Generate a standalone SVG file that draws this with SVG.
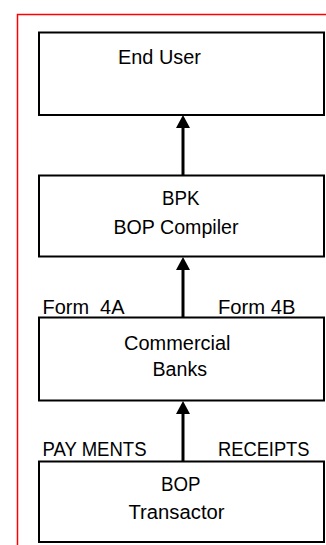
<svg xmlns="http://www.w3.org/2000/svg" width="326" height="545" viewBox="0 0 326 545">
<defs>
<style>
.box{fill:#fff;stroke:#000;stroke-width:2}
.t{font-family:"Liberation Sans",Arial,sans-serif;font-size:20px;fill:#000;white-space:pre}
.con{stroke:#000;stroke-width:3;fill:none}
</style>
</defs>
<rect width="326" height="545" fill="#fff"/>
<polyline points="17.5,545 17.5,14.5 326,14.5" fill="none" stroke="#f00" stroke-width="1.5"/>
<g id="connectors">
<line class="con" x1="183" y1="175" x2="183" y2="128"/>
<path d="M176,128 L183,115 L190,128 Z"/>
<line class="con" x1="183" y1="317" x2="183" y2="270"/>
<path d="M176,270 L183,257 L190,270 Z"/>
<line class="con" x1="183" y1="461" x2="183" y2="414"/>
<path d="M176,414 L183,401 L190,414 Z"/>
</g>
<g id="end-user">
<rect class="box" x="39" y="32.5" width="285" height="82.5"/>
<text class="t" x="118" y="64" textLength="83" lengthAdjust="spacingAndGlyphs">End User</text>
</g>
<g id="bpk">
<rect class="box" x="39" y="175.5" width="285" height="81"/>
<text class="t" x="162" y="205" textLength="37.5" lengthAdjust="spacingAndGlyphs">BPK</text>
<text class="t" x="113.5" y="234" textLength="125" lengthAdjust="spacingAndGlyphs">BOP Compiler</text>
</g>
<g id="banks">
<rect class="box" x="39" y="317.5" width="285" height="83"/>
<text class="t" x="124" y="350" textLength="106.5" lengthAdjust="spacingAndGlyphs">Commercial</text>
<text class="t" x="152.5" y="376" textLength="54.5" lengthAdjust="spacingAndGlyphs">Banks</text>
<text class="t" x="42.5" y="314" textLength="82" lengthAdjust="spacingAndGlyphs">Form  4A</text>
<text class="t" x="218" y="314" textLength="77.5" lengthAdjust="spacingAndGlyphs">Form 4B</text>
</g>
<g id="transactor">
<rect class="box" x="39" y="461.5" width="285" height="80.5"/>
<text class="t" x="161" y="491" textLength="39.5" lengthAdjust="spacingAndGlyphs">BOP</text>
<text class="t" x="128.5" y="519" textLength="96" lengthAdjust="spacingAndGlyphs">Transactor</text>
<text class="t" x="42.5" y="456" textLength="104" lengthAdjust="spacingAndGlyphs">PAY MENTS</text>
<text class="t" x="218" y="456" textLength="91.5" lengthAdjust="spacingAndGlyphs">RECEIPTS</text>
</g>
</svg>
